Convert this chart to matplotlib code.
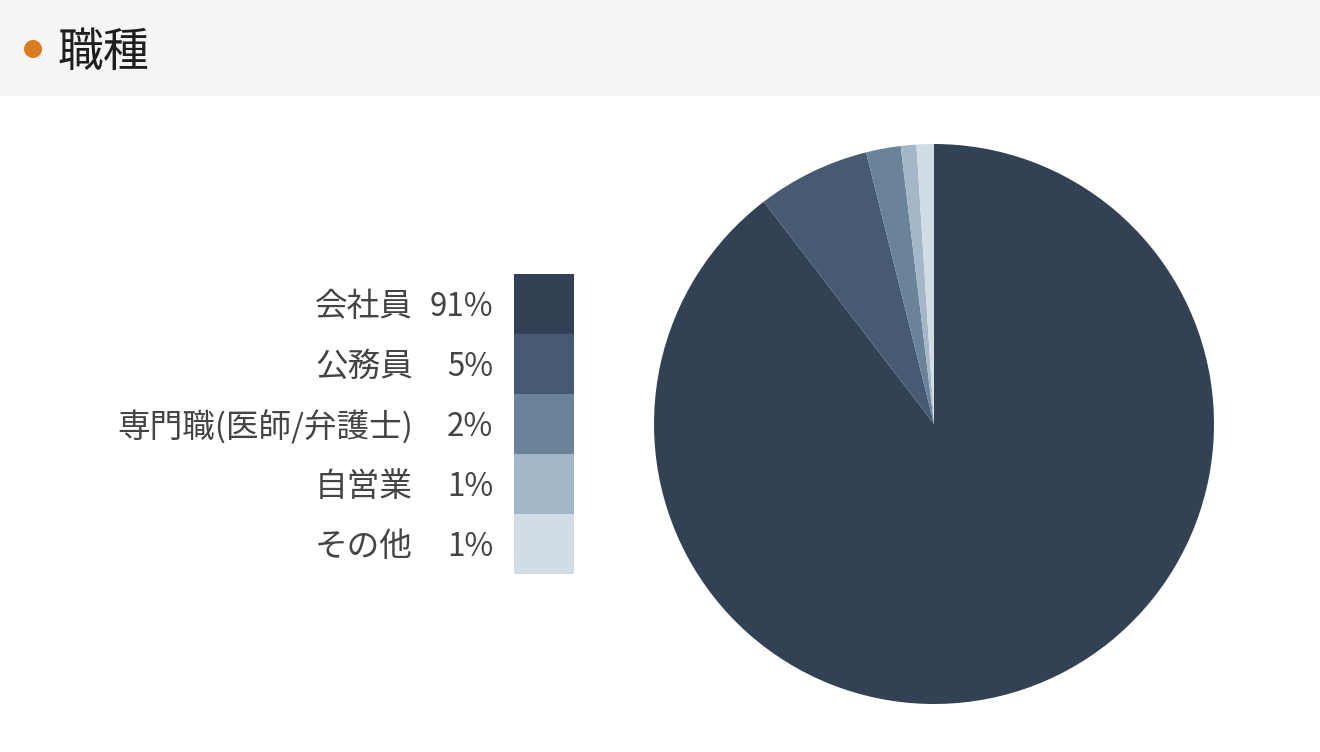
import matplotlib
matplotlib.use("Agg")
import matplotlib.pyplot as plt
from matplotlib.patches import Rectangle, Circle

plt.rcParams['font.family'] = ['Noto Sans CJK JP', 'DejaVu Sans']

# data
TITLE = "職種"
categories = ["会社員", "公務員", "専門職(医師/弁護士)", "自営業", "その他"]
pct_labels = ["91%", "5%", "2%", "1%", "1%"]
# slice sizes as measured on the pie
shares = [89.6, 6.5, 2.0, 0.9, 1.0]
colors = ["#324254", "#465b71", "#6b8399", "#a4b7c9", "#d1dce5"]

W, H = 1320, 752
fig = plt.figure(figsize=(W / 100, H / 100), dpi=100)
fig.patch.set_facecolor("white")

# overlay axes in pixel coordinates for header and legend
ov = fig.add_axes([0, 0, 1, 1])
ov.set_xlim(0, W)
ov.set_ylim(H, 0)
ov.axis("off")

ov.add_patch(Rectangle((0, 0), W, 96, color="#f5f5f5", lw=0))
ov.add_patch(Circle((33, 49), 9, color="#d97b1f", lw=0))
ov.text(57, 53, TITLE, fontsize=33, color="#1e1e1e", va="center", ha="left")

# legend: color boxes + labels
for i, (cat, pct, col) in enumerate(zip(categories, pct_labels, colors)):
    top = 274 + i * 60
    ov.add_patch(Rectangle((514, top), 60, 60, color=col, lw=0))
    yc = top + 33
    ov.text(413, yc, cat, fontsize=23.5, color="#444444", ha="right", va="center")
    ov.text(493, yc, pct, fontsize=22.5, color="#444444", ha="right", va="center")

# pie chart
ax = fig.add_axes([654 / W, 48 / H, 560 / W, 560 / H])
ax.pie(shares, colors=colors, startangle=90, counterclock=False,
       radius=1.0, wedgeprops={"linewidth": 0})
ax.set_xlim(-1, 1)
ax.set_ylim(-1, 1)
ax.set_aspect("equal")
ax.axis("off")

fig.savefig("out.png", dpi=100)
